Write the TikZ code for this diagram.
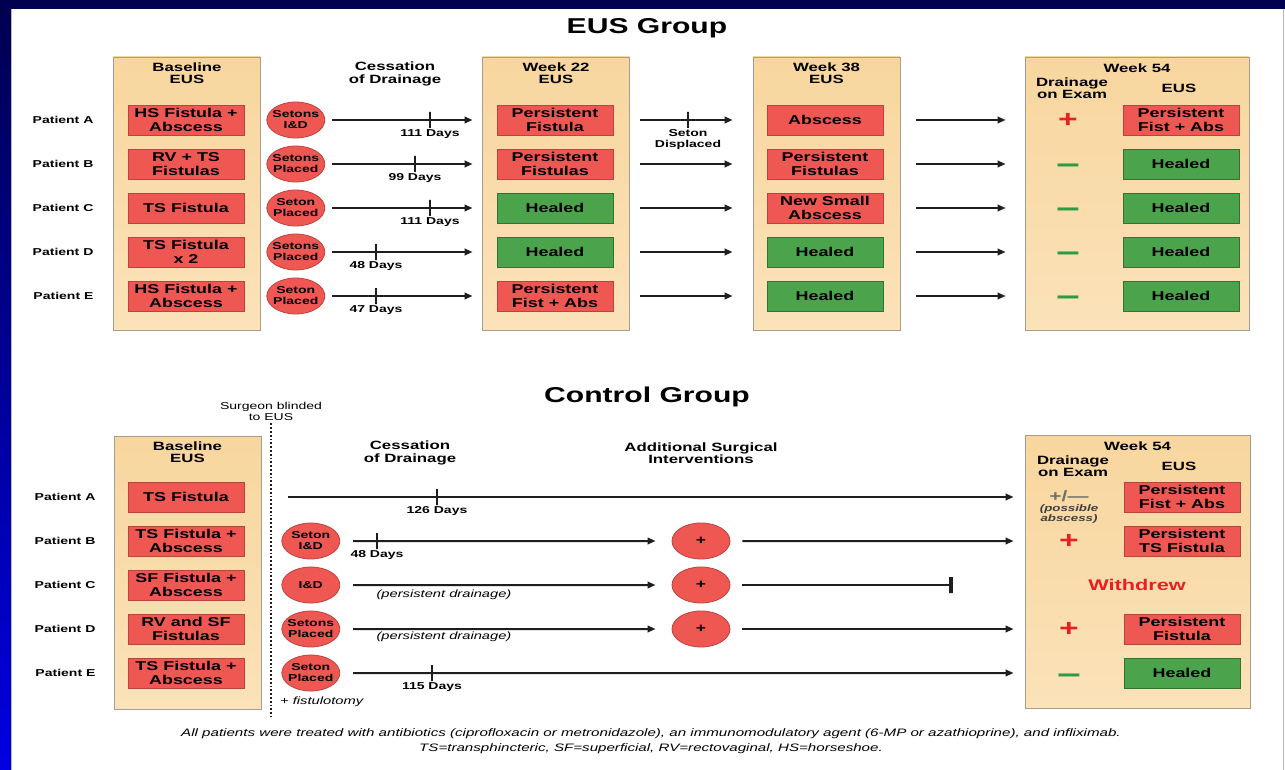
\documentclass[tikz,border=0pt]{standalone}
\usepackage{fontspec}
\setmainfont[FakeStretch=1.4]{Liberation Sans}
\usepackage{tikz}
\usetikzlibrary{arrows.meta,positioning,shapes.geometric}
\definecolor{navy}{HTML}{000050}
\definecolor{royal}{HTML}{0000E2}
\definecolor{paneltop}{HTML}{F8D69E}
\definecolor{panelbot}{HTML}{FBE2B9}
\definecolor{panelline}{HTML}{A89E90}
\definecolor{redfill}{HTML}{EF5753}
\definecolor{redline}{HTML}{B9443F}
\definecolor{greenfill}{HTML}{4BA44B}
\definecolor{greenline}{HTML}{2F7434}
\definecolor{plusred}{HTML}{E52121}
\definecolor{minusgreen}{HTML}{2E9A43}
\definecolor{ink}{HTML}{1E1E1E}
\definecolor{muted}{HTML}{707070}
\tikzset{
  panelbox/.style={draw=panelline, line width=0.8pt, top color=paneltop, bottom color=panelbot,
    minimum width=147pt, minimum height=273pt, inner sep=0pt},
  result/.style={draw=redline, line width=0.8pt, fill=redfill, minimum width=116pt, minimum height=30pt,
    inner sep=0pt, align=center, font=\fontsize{12.8}{13.5}\selectfont\bfseries},
  healed/.style={result, draw=greenline, fill=greenfill},
  seton/.style={ellipse, draw=redline, fill=redfill, line width=0.8pt, minimum width=58pt, minimum height=36pt,
    inner xsep=-3pt, inner ysep=0pt, align=center, font=\fontsize{10}{11}\selectfont\bfseries},
  surgery/.style={seton, font=\fontsize{12.5}{12.5}\selectfont\bfseries},
  colhead/.style={align=center, font=\fontsize{12}{12.5}\selectfont\bfseries, inner sep=0pt},
  patient/.style={font=\fontsize{10}{11}\selectfont\bfseries, inner sep=0pt},
  grouptitle/.style={font=\fontsize{21.5}{24}\selectfont\bfseries},
  tickmark/.style={draw=ink, line width=2pt, minimum width=0pt, minimum height=16pt, inner sep=0pt},
  stopbar/.style={tickmark, line width=3.2pt, outer sep=0pt},
  days/.style={font=\fontsize{10}{11}\selectfont\bfseries, align=center, inner sep=0pt},
  flow/.style={-{Triangle[length=8pt,width=6.5pt]}, draw=ink, line width=2pt},
  line/.style={draw=ink, line width=2pt},
  posdrain/.style={text=plusred, font=\fontsize{24}{24}\selectfont\bfseries, inner sep=0pt},
  negdrain/.style={text=minusgreen, font=\fontsize{30}{30}\selectfont\bfseries, inner sep=0pt, yshift=-5pt},
  note/.style={font=\fontsize{10.5}{11}\selectfont\itshape, inner sep=0pt},
  footer/.style={font=\fontsize{10.8}{14.5}\selectfont\itshape, align=center, inner sep=0pt}
}
\begin{document}
\begin{tikzpicture}[x=1pt, y=-1pt, node distance=13.2pt]
  \useasboundingbox (0,0) rectangle (1285,770);
  % slide frame
  \fill[white] (0,0) rectangle (1285,770);
  \shade[top color=navy, bottom color=royal] (0,0) rectangle (11,770);
  \fill[navy] (0,0) rectangle (1285,9);
  \draw[gray!55, line width=1pt] (11.5,9) -- (11.5,770);
  \draw[gray!55, line width=1pt] (1283.5,9) -- (1283.5,770);

  %% EUS group
  \node[grouptitle] (eustitle) at (647,28) {EUS Group};
  \node[panelbox] (eusbase) at (187,193.5) {};
  \node[panelbox] (eus22) at (556,193.5) {};
  \node[panelbox] (eus38) at (826.5,193.5) {};
  \node[panelbox, minimum width=224pt] (eus54) at (1137,193.5) {};
  \node[colhead, below=6pt of eusbase.north] (hbase) {Baseline\\EUS};
  \node[colhead, below=6pt of eus22.north] (h22) {Week 22\\EUS};
  \node[colhead, below=6pt of eus38.north] (h38) {Week 38\\EUS};
  \node[colhead, below=7pt of eus54.north] (h54) {Week 54};
  \node[colhead] (hdrain) at (1072,88) {Drainage\\on Exam};
  \node[colhead] (heus) at (1179,88) {EUS};
  \node[colhead] (hcess) at (395,74) {Cessation\\of Drainage};

  \node[result] (baseA) at (186,120) {HS Fistula +\\Abscess};
  \node[result, below=of baseA] (baseB) {RV + TS\\Fistulas};
  \node[result, below=of baseB] (baseC) {TS Fistula};
  \node[result, below=of baseC] (baseD) {TS Fistula\\x 2};
  \node[result, below=of baseD] (baseE) {HS Fistula +\\Abscess};

  \node[patient, left=34pt of baseA] (patA) {Patient A};
  \node[patient, left=34pt of baseB] (patB) {Patient B};
  \node[patient, left=34pt of baseC] (patC) {Patient C};
  \node[patient, left=34pt of baseD] (patD) {Patient D};
  \node[patient, left=34pt of baseE] (patE) {Patient E};

  \node[seton, right=22pt of baseA] (setA) {Setons\\I\&D};
  \node[seton, right=22pt of baseB] (setB) {Setons\\Placed};
  \node[seton, right=22pt of baseC] (setC) {Seton\\Placed};
  \node[seton, right=22pt of baseD] (setD) {Setons\\Placed};
  \node[seton, right=22pt of baseE] (setE) {Seton\\Placed};

  \node[result] (w22A) at (555,120) {Persistent\\Fistula};
  \node[result, below=of w22A] (w22B) {Persistent\\Fistulas};
  \node[healed, below=of w22B] (w22C) {Healed};
  \node[healed, below=of w22C] (w22D) {Healed};
  \node[result, below=of w22D] (w22E) {Persistent\\Fist + Abs};

  \node[result] (w38A) at (825,120) {Abscess};
  \node[result, below=of w38A] (w38B) {Persistent\\Fistulas};
  \node[result, below=of w38B] (w38C) {New Small\\Abscess};
  \node[healed, below=of w38C] (w38D) {Healed};
  \node[healed, below=of w38D] (w38E) {Healed};

  \node[result] (w54A) at (1181,120) {Persistent\\Fist + Abs};
  \node[healed, below=of w54A] (w54B) {Healed};
  \node[healed, below=of w54B] (w54C) {Healed};
  \node[healed, below=of w54C] (w54D) {Healed};
  \node[healed, below=of w54D] (w54E) {Healed};

  \node[posdrain] (drA) at (1068,120) {+};
  \node[negdrain] (drB) at (1068,164) {–};
  \node[negdrain] (drC) at (1068,208) {–};
  \node[negdrain] (drD) at (1068,252) {–};
  \node[negdrain] (drE) at (1068,296) {–};

  \draw[flow, shorten <=7pt, shorten >=24pt] (setA) -- (w22A);
  \draw[flow, shorten <=7pt, shorten >=24pt] (setB) -- (w22B);
  \draw[flow, shorten <=7pt, shorten >=24pt] (setC) -- (w22C);
  \draw[flow, shorten <=7pt, shorten >=24pt] (setD) -- (w22D);
  \draw[flow, shorten <=7pt, shorten >=24pt] (setE) -- (w22E);
  \node[tickmark, label={[days]below:111 Days}] (tkA) at (430,120) {};
  \node[tickmark, label={[days]below:99 Days}] (tkB) at (415,164) {};
  \node[tickmark, label={[days]below:111 Days}] (tkC) at (430,208) {};
  \node[tickmark, label={[days]below:48 Days}] (tkD) at (376,252) {};
  \node[tickmark, label={[days]below:47 Days}] (tkE) at (376,296) {};

  \draw[flow, shorten <=27pt, shorten >=34pt] (w22A) -- (w38A);
  \draw[flow, shorten <=27pt, shorten >=34pt] (w22B) -- (w38B);
  \draw[flow, shorten <=27pt, shorten >=34pt] (w22C) -- (w38C);
  \draw[flow, shorten <=27pt, shorten >=34pt] (w22D) -- (w38D);
  \draw[flow, shorten <=27pt, shorten >=34pt] (w22E) -- (w38E);
  \node[tickmark, label={[days]below:{Seton\\Displaced}}] (tkdisp) at (688,120) {};

  \draw[flow, shorten <=33pt, shorten >=117pt] (w38A) -- (w54A);
  \draw[flow, shorten <=33pt, shorten >=117pt] (w38B) -- (w54B);
  \draw[flow, shorten <=33pt, shorten >=117pt] (w38C) -- (w54C);
  \draw[flow, shorten <=33pt, shorten >=117pt] (w38D) -- (w54D);
  \draw[flow, shorten <=33pt, shorten >=117pt] (w38E) -- (w54E);

  %% Control group
  \node[grouptitle] (ctltitle) at (647,397) {Control Group};
  \node[font=\fontsize{10}{11}\selectfont, align=center, inner sep=0pt] (blind) at (271,411) {Surgeon blinded\\to EUS};
  \draw[ink, dotted, line width=1.8pt] ([yshift=-3pt]blind.south) -- ++(0,294);
  \node[panelbox] (ctlbase) at (187.5,572.5) {};
  \node[panelbox, minimum width=225pt] (ctl54) at (1137.5,571.5) {};
  \node[colhead, below=6pt of ctlbase.north] (hcbase) {Baseline\\EUS};
  \node[colhead, below=7pt of ctl54.north] (hc54) {Week 54};
  \node[colhead] (hcdrain) at (1073,466) {Drainage\\on Exam};
  \node[colhead] (hceus) at (1179,466) {EUS};
  \node[colhead] (hccess) at (410,453) {Cessation\\of Drainage};
  \node[colhead] (hcsurg) at (701,453) {Additional Surgical\\Interventions};

  \node[result] (cbA) at (186,497) {TS Fistula};
  \node[result, below=of cbA] (cbB) {TS Fistula +\\Abscess};
  \node[result, below=of cbB] (cbC) {SF Fistula +\\Abscess};
  \node[result, below=of cbC] (cbD) {RV and SF\\Fistulas};
  \node[result, below=of cbD] (cbE) {TS Fistula +\\Abscess};

  \node[patient, left=32pt of cbA] (cpatA) {Patient A};
  \node[patient, left=32pt of cbB] (cpatB) {Patient B};
  \node[patient, left=32pt of cbC] (cpatC) {Patient C};
  \node[patient, left=32pt of cbD] (cpatD) {Patient D};
  \node[patient, left=32pt of cbE] (cpatE) {Patient E};

  \node[seton, right=37pt of cbB] (csetB) {Seton\\I\&D};
  \node[seton, right=37pt of cbC] (csetC) {I\&D};
  \node[seton, right=37pt of cbD] (csetD) {Setons\\Placed};
  \node[seton, right=37pt of cbE] (csetE) {Seton\\Placed};
  \node[note, anchor=west] (fistul) at (280,702) {+ fistulotomy};

  \node[surgery] (surgB) at (701,541) {+};
  \node[surgery] (surgC) at (701,585) {+};
  \node[surgery] (surgD) at (701,629) {+};

  \node[result] (c54A) at (1182,497) {Persistent\\Fist + Abs};
  \node[result, below=of c54A] (c54B) {Persistent\\TS Fistula};
  \node[result] (c54D) at (1182,629) {Persistent\\Fistula};
  \node[healed, below=of c54D] (c54E) {Healed};

  \node[text=muted, font=\fontsize{15}{15}\selectfont\bfseries, inner sep=0pt] (cdrA) at (1069,496) {+/—};
  \node[font=\fontsize{9.5}{10}\selectfont\bfseries\itshape, text=ink!85, align=center, inner sep=0pt, below=3pt of cdrA] (possible) {(possible\\abscess)};
  \node[posdrain] (cdrB) at (1069,541) {+};
  \node[text=plusred, font=\fontsize{15.5}{16}\selectfont\bfseries] (withdrew) at (1137,585) {Withdrew};
  \node[posdrain] (cdrD) at (1069,629) {+};
  \node[negdrain] (cdrE) at (1069,674) {–};
  \node[stopbar] (stopC) at (951,585) {};

  \draw[flow, shorten <=44pt, shorten >=110pt] (cbA) -- (c54A);
  \node[tickmark, label={[days]below:126 Days}] (ctkA) at (437,497) {};
  \draw[flow, shorten <=13pt, shorten >=16pt] (csetB) -- (surgB);
  \node[tickmark, label={[days]below:48 Days}] (ctkB) at (377,541) {};
  \draw[flow, shorten <=12pt, shorten >=110pt] (surgB) -- (c54B);
  \draw[flow, shorten <=13pt, shorten >=16pt] (csetC) -- (surgC);
  \node[note] (pdC) at (444,595) {(persistent drainage)};
  \draw[line, shorten <=12pt] (surgC) -- (stopC);
  \draw[flow, shorten <=13pt, shorten >=16pt] (csetD) -- (surgD);
  \node[note] (pdD) at (444,637) {(persistent drainage)};
  \draw[flow, shorten <=12pt, shorten >=110pt] (surgD) -- (c54D);
  \draw[flow, shorten <=13pt, shorten >=110pt] (csetE) -- (c54E);
  \node[tickmark, label={[days]below:115 Days}] (ctkE) at (432,673) {};

  \node[footer] (foot) at (651,741) {All patients were treated with antibiotics (ciprofloxacin or metronidazole), an immunomodulatory agent (6-MP or azathioprine), and infliximab.\\TS=transphincteric, SF=superficial, RV=rectovaginal, HS=horseshoe.};
\end{tikzpicture}
\end{document}
